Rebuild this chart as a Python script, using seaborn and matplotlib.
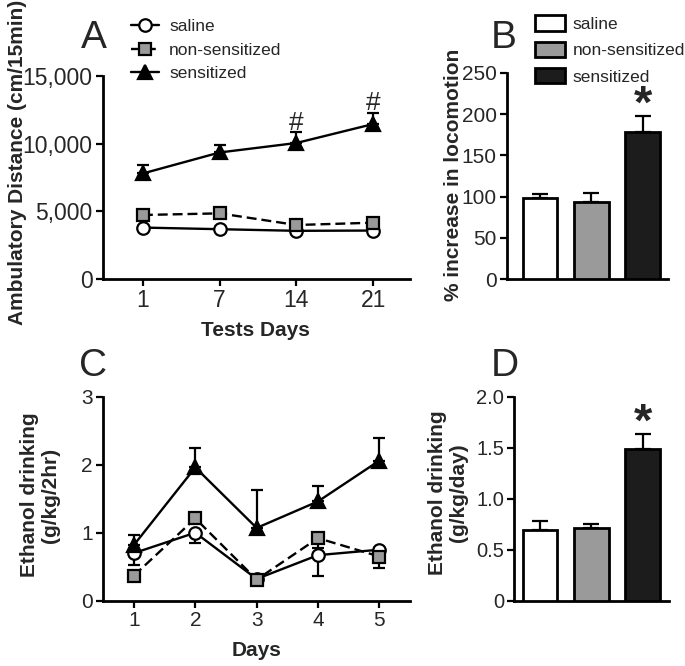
import matplotlib as mtl
mtl.use('Agg')
import matplotlib.pyplot as plt
import matplotlib.patches as mpatches
import numpy as np
import seaborn as sns

# Panel A: locomotion on test days
test_days = ['1', '7', '14', '21']
a_saline = [3800, 3680, 3560, 3580]
a_nonsens = [4730, 4850, 3990, 4160]
a_sens = [7800, 9350, 10050, 11450]
a_saline_err = [150, 150, 150, 150]
a_nonsens_err = [150, 150, 150, 150]
a_sens_err = [600, 550, 790, 840]
a_marks = ['', '', '#', '#']
a_yticks = [0, 5000, 10000, 15000]
a_yticklabels = ['0', '5,000', '10,000', '15,000']

# Panel B: % increase in locomotion
groups = ['saline', 'non-sensitized', 'sensitized']
b_values = [98, 93, 178]
b_err = [5, 11, 19]
b_yticks = [0, 50, 100, 150, 200, 250]

# Panel C: ethanol drinking per day
drink_days = [1, 2, 3, 4, 5]
c_saline = [0.70, 1.00, 0.32, 0.67, 0.75]
c_saline_err = [0.17, 0.15, 0.03, 0.31, 0.03]
c_nonsens = [0.37, 1.21, 0.31, 0.92, 0.65]
c_nonsens_err = [0.05, 0.05, 0.03, 0.15, 0.17]
c_sens = [0.82, 1.96, 1.07, 1.46, 2.06]
c_sens_err = [0.14, 0.28, 0.56, 0.23, 0.33]

# Panel D: mean ethanol drinking
d_values = [0.69, 0.71, 1.49]
d_err = [0.09, 0.04, 0.14]
d_yticks = [0, 0.5, 1.0, 1.5, 2.0]
d_yticklabels = ['0', '0.5', '1.0', '1.5', '2.0']

grey = '#9a9a9a'
bar_colors = ['white', grey, '#1c1c1c']
line_styles = {
    'saline': dict(marker='o', markerfacecolor='white', markersize=9, linestyle='-'),
    'non-sensitized': dict(marker='s', markerfacecolor=grey, markersize=8.5, linestyle=(0, (4.2, 2.1))),
    'sensitized': dict(marker='^', markerfacecolor='black', markersize=10, linestyle='-'),
}

sns.set_style('ticks')
plt.rcParams['font.family'] = ['Liberation Sans', 'DejaVu Sans']
plt.rcParams['axes.linewidth'] = 2


def px_axes(fig, x0, x1, y0, y1):
    W, H = 685.0, 666.0
    return fig.add_axes([x0 / W, 1 - y1 / H, (x1 - x0) / W, (y1 - y0) / H])


def style_axis(ax, size):
    sns.despine(ax=ax)
    ax.tick_params(axis='both', length=5, width=1.6, pad=2.5, labelsize=size, color='black')
    for s in ax.spines.values():
        s.set_color('black')


def draw_series(ax, x, y, err, name, direction):
    st = line_styles[name]
    sns.lineplot(x=x, y=y, ax=ax, color='black', lw=1.7, markeredgecolor='black',
                 markeredgewidth=1.6, label=name, zorder=3, **st)
    line = ax.lines[-1]
    lo = np.zeros(len(err)) if direction == 'up' else np.array(err)
    hi = np.array(err) if direction == 'up' else np.zeros(len(err))
    ax.errorbar(x, y, yerr=[lo, hi], fmt='none', ecolor='black', elinewidth=1.6,
                capsize=4.5, capthick=1.6, zorder=2)
    return line


def draw_bars(ax, values, err):
    sns.barplot(x=groups, y=values, hue=groups, palette=bar_colors, edgecolor='black',
                linewidth=2, width=0.68, errorbar=None, legend=False, ax=ax, zorder=3)
    ax.errorbar(np.arange(len(values)), values, yerr=[np.zeros(len(err)), err], fmt='none',
                ecolor='black', elinewidth=1.6, capsize=6, capthick=1.6, zorder=2)
    ax.set_xticks([])
    ax.tick_params(axis='x', length=0)


fig = plt.figure(figsize=(6.85, 6.66), dpi=100)

# ---- A
axA = px_axes(fig, 103, 410, 76, 279)
xa = np.arange(len(test_days))
hA = []
hA.append(draw_series(axA, xa, a_saline, a_saline_err, 'saline', 'up'))
hA.append(draw_series(axA, xa, a_nonsens, a_nonsens_err, 'non-sensitized', 'up'))
hA.append(draw_series(axA, xa, a_sens, a_sens_err, 'sensitized', 'up'))
if axA.get_legend():
    axA.get_legend().remove()
for i, m in enumerate(a_marks):
    if m:
        axA.annotate(m, xy=(xa[i], a_sens[i] + a_sens_err[i]), xytext=(0, -2),
                     textcoords='offset points', ha='center', va='bottom', fontsize=19)
axA.set_xlim(-0.52, 3.48)
axA.set_ylim(0, 15000)
axA.set_xticks(xa)
axA.set_xticklabels(test_days)
axA.set_yticks(a_yticks)
axA.set_yticklabels(a_yticklabels)
style_axis(axA, 16.5)
axA.set_xlabel('Tests Days', fontsize=15, fontweight='bold')
axA.set_ylabel('Ambulatory Distance (cm/15min)', fontsize=15, fontweight='bold')
axA.xaxis.set_label_coords(0.495, -0.256)
axA.xaxis.label.set_va('center')
axA.yaxis.set_label_coords(-0.277, 0.576)
axA.yaxis.label.set_va('center')
fig.legend(hA, groups, loc='center left', bbox_to_anchor=(131 / 685, 1 - 50 / 666),
           frameon=False, fontsize=12.5, handlelength=1.6, handletextpad=0.6,
           labelspacing=0.5, borderpad=0, borderaxespad=0)

# ---- B
axB = px_axes(fig, 507, 668, 72.7, 279.3)
draw_bars(axB, b_values, b_err)
axB.annotate('*', xy=(2, b_values[2] + b_err[2]), xytext=(0, -1), textcoords='offset points',
             ha='center', va='baseline', fontsize=34, fontweight='bold')
axB.set_xlim(-0.643, 2.495)
axB.set_ylim(0, 250)
axB.set_yticks(b_yticks)
style_axis(axB, 15)
axB.set_ylabel('% increase in locomotion', fontsize=15, fontweight='bold')
axB.yaxis.set_label_coords(-0.335, 0.505)
axB.yaxis.label.set_va('center')
bar_handles = [mpatches.Patch(facecolor=c, edgecolor='black', linewidth=2) for c in bar_colors]
fig.legend(bar_handles, groups, loc='center left', bbox_to_anchor=(535 / 685, 1 - 50 / 666),
           frameon=False, fontsize=12.5, handlelength=1.7, handleheight=1.0, handletextpad=0.45,
           labelspacing=0.55, borderpad=0, borderaxespad=0)

# ---- C
axC = px_axes(fig, 103.3, 410, 396.7, 600.7)
draw_series(axC, drink_days, c_saline, c_saline_err, 'saline', 'down')
draw_series(axC, drink_days, c_nonsens, c_nonsens_err, 'non-sensitized', 'down')
draw_series(axC, drink_days, c_sens, c_sens_err, 'sensitized', 'up')
if axC.get_legend():
    axC.get_legend().remove()
axC.set_xlim(0.5, 5.5)
axC.set_ylim(0, 3)
axC.set_xticks(drink_days)
axC.set_yticks([0, 1, 2, 3])
style_axis(axC, 15)
axC.set_xlabel('Days', fontsize=15, fontweight='bold')
axC.set_ylabel('Ethanol drinking\n(g/kg/2hr)', fontsize=15, fontweight='bold', linespacing=1.15)
axC.xaxis.set_label_coords(0.501, -0.242)
axC.xaxis.label.set_va('center')
axC.yaxis.set_label_coords(-0.206, 0.518)
axC.yaxis.label.set_va('center')

# ---- D
axD = px_axes(fig, 514.3, 669.3, 396.7, 600.7)
draw_bars(axD, d_values, d_err)
axD.annotate('*', xy=(2, d_values[2] + d_err[2]), xytext=(0, -1), textcoords='offset points',
             ha='center', va='baseline', fontsize=34, fontweight='bold')
axD.set_xlim(-0.5, 2.52)
axD.set_ylim(0, 2.0)
axD.set_yticks(d_yticks)
axD.set_yticklabels(d_yticklabels)
style_axis(axD, 14.5)
axD.set_ylabel('Ethanol drinking\n(g/kg/day)', fontsize=15, fontweight='bold', linespacing=1.15)
axD.yaxis.set_label_coords(-0.428, 0.528)
axD.yaxis.label.set_va('center')

# panel letters
for letter, px, py in [('A', 94, 48), ('B', 504, 48), ('C', 93, 376), ('D', 505, 376)]:
    fig.text(px / 685, 1 - py / 666, letter, fontsize=28, ha='center', va='baseline')

fig.savefig('out.png', dpi=100, facecolor='white')
